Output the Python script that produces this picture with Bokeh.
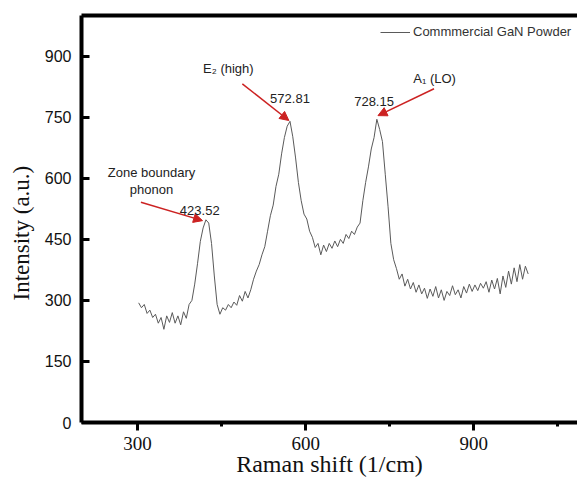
from bokeh.plotting import figure
from bokeh.models import (Range1d, LinearAxis, SingleIntervalTicker, FixedTicker,
                          Label, Arrow, NormalHead, Legend, LegendItem, Title)
from bokeh.embed import file_html
from bokeh.resources import INLINE

# ---- data ----
raman_shift = [302, 307, 312, 317, 322, 327, 332, 337, 342, 347, 352, 357, 362, 367, 372,
               377, 382, 387, 392, 397, 402, 407, 412, 417, 422, 427, 432, 437, 442, 447,
               452, 457, 462, 467, 472, 477, 482, 487, 492, 497, 502, 507, 512, 517, 522,
               527, 532, 537, 542, 547, 552, 557, 562, 567, 572, 577, 582, 587, 592, 597,
               602, 607, 612, 617, 622, 627, 632, 637, 642, 647, 652, 657, 662, 667, 672,
               677, 682, 687, 692, 697, 702, 707, 712, 717, 722, 727, 732, 737, 742, 747,
               752, 757, 762, 767, 772, 777, 782, 787, 792, 797, 802, 807, 812, 817, 822,
               827, 832, 837, 842, 847, 852, 857, 862, 867, 872, 877, 882, 887, 892, 897,
               902, 907, 912, 917, 922, 927, 932, 937, 942, 947, 952, 957, 962, 967, 972,
               977, 982, 987, 992, 997]
intensity = [294, 282, 290, 268, 276, 258, 266, 244, 258, 229, 262, 246, 270, 244, 262,
             240, 272, 256, 290, 300, 340, 390, 445, 478, 498, 490, 440, 360, 290, 266,
             282, 276, 290, 282, 296, 288, 312, 298, 322, 306, 326, 352, 372, 388, 412,
             432, 470, 508, 534, 580, 610, 660, 700, 728, 740, 702, 650, 590, 545, 512,
             500, 470, 455, 430, 440, 412, 436, 420, 440, 428, 446, 432, 450, 440, 462,
             452, 470, 462, 480, 490, 545, 590, 628, 672, 700, 745, 720, 690, 610, 530,
             440, 400, 378, 352, 365, 335, 352, 328, 344, 320, 338, 316, 330, 305, 328,
             310, 334, 306, 326, 300, 322, 312, 336, 314, 326, 306, 334, 318, 340, 322,
             338, 324, 342, 330, 346, 320, 350, 328, 354, 316, 360, 332, 372, 340, 380,
             346, 388, 352, 384, 365]

series_name = "Commmercial GaN Powder"
x_title = "Raman shift (1/cm)"
y_title = "Intensity (a.u.)"
peak_labels = ["423.52", "572.81", "728.15"]
mode_labels = ["Zone boundary\nphonon", "E\u2082 (high)", "A\u2081 (LO)"]

x_ticks_interval = 300
y_ticks_interval = 150

# ---- figure ----
p = figure(width=577, height=480, x_range=Range1d(200, 1085), y_range=Range1d(0, 1000),
           output_backend="svg", toolbar_location=None,
           min_border_left=81, min_border_right=0, min_border_top=15, min_border_bottom=58,
           x_axis_label=x_title)
p.grid.visible = False
p.outline_line_color = None
p.background_fill_color = "white"
p.border_fill_color = "white"

line = p.line(raman_shift, intensity, line_color="#5a5a5a", line_width=1)

xa = p.xaxis[0]
xa.ticker = SingleIntervalTicker(interval=x_ticks_interval, num_minor_ticks=2)
xa.axis_line_width = 4
xa.major_tick_line_width = 3
xa.major_tick_out = 8
xa.major_tick_in = 0
xa.minor_tick_line_width = 3
xa.minor_tick_out = 4
xa.minor_tick_in = 0
xa.major_label_text_font = "Liberation Serif"
xa.major_label_text_font_size = "19px"
xa.major_label_text_color = "#111111"
xa.major_label_standoff = 6
xa.axis_label_text_font = "Liberation Serif"
xa.axis_label_text_font_size = "24px"
xa.axis_label_text_font_style = "normal"
xa.axis_label_text_color = "#111111"
xa.axis_label_standoff = -2

ya = p.yaxis[0]
ya.ticker = SingleIntervalTicker(interval=y_ticks_interval, num_minor_ticks=0)
ya.axis_line_width = 4
ya.major_tick_line_width = 3
ya.major_tick_in = 8
ya.major_tick_out = 0
ya.minor_tick_line_color = None
ya.major_label_text_font = "Liberation Sans"
ya.major_label_text_font_size = "16px"
ya.major_label_text_color = "#111111"
ya.major_label_standoff = 10

top = LinearAxis(ticker=FixedTicker(ticks=[]), axis_line_width=4,
                 major_tick_line_color=None, minor_tick_line_color=None)
p.add_layout(top, "above")

# y title as a side title so it can sit lower than the frame centre, as in the reference
p.add_layout(Title(text=y_title, align="left", offset=122, vertical_align="middle",
                   text_font="Liberation Serif", text_font_size="23px",
                   text_font_style="normal", text_color="#111111", standoff=13), "left")

# ---- annotations ----
red = "#cc2222"
txt = "#222222"
arrow_start_x = [306, 487, 829]
arrow_start_y = [541, 832, 820]
arrow_end_x = [416, 570, 729]
arrow_end_y = [496, 742, 754]
for sx, sy, ex, ey in zip(arrow_start_x, arrow_start_y, arrow_end_x, arrow_end_y):
    p.add_layout(Arrow(x_start=sx, y_start=sy, x_end=ex, y_end=ey,
                       line_color=red, line_width=1.5,
                       end=NormalHead(size=9, fill_color=red, line_color=red)))

mode_x = [325, 462, 830]
mode_y = [593, 870, 845]
value_x = [411, 572, 722]
value_y = [521, 797, 789]
for i in range(3):
    p.add_layout(Label(x=mode_x[i], y=mode_y[i], text=mode_labels[i], text_align="center",
                       text_baseline="middle", text_font="Liberation Sans",
                       text_font_size="13px", text_color=txt, text_line_height=1.15))
    p.add_layout(Label(x=value_x[i], y=value_y[i], text=peak_labels[i], text_align="center",
                       text_baseline="middle", text_font="Liberation Sans",
                       text_font_size="13px", text_color=txt))

legend = Legend(items=[LegendItem(label=series_name, renderers=[line])],
                location=(299, 383), padding=0, margin=0, glyph_width=30, glyph_height=14,
                label_height=14, label_standoff=3, border_line_color=None,
                background_fill_alpha=0, label_text_font="Liberation Sans",
                label_text_font_size="13px", label_text_color="#333333")
p.add_layout(legend)

open("out.html", "w").write(file_html(p, INLINE))
